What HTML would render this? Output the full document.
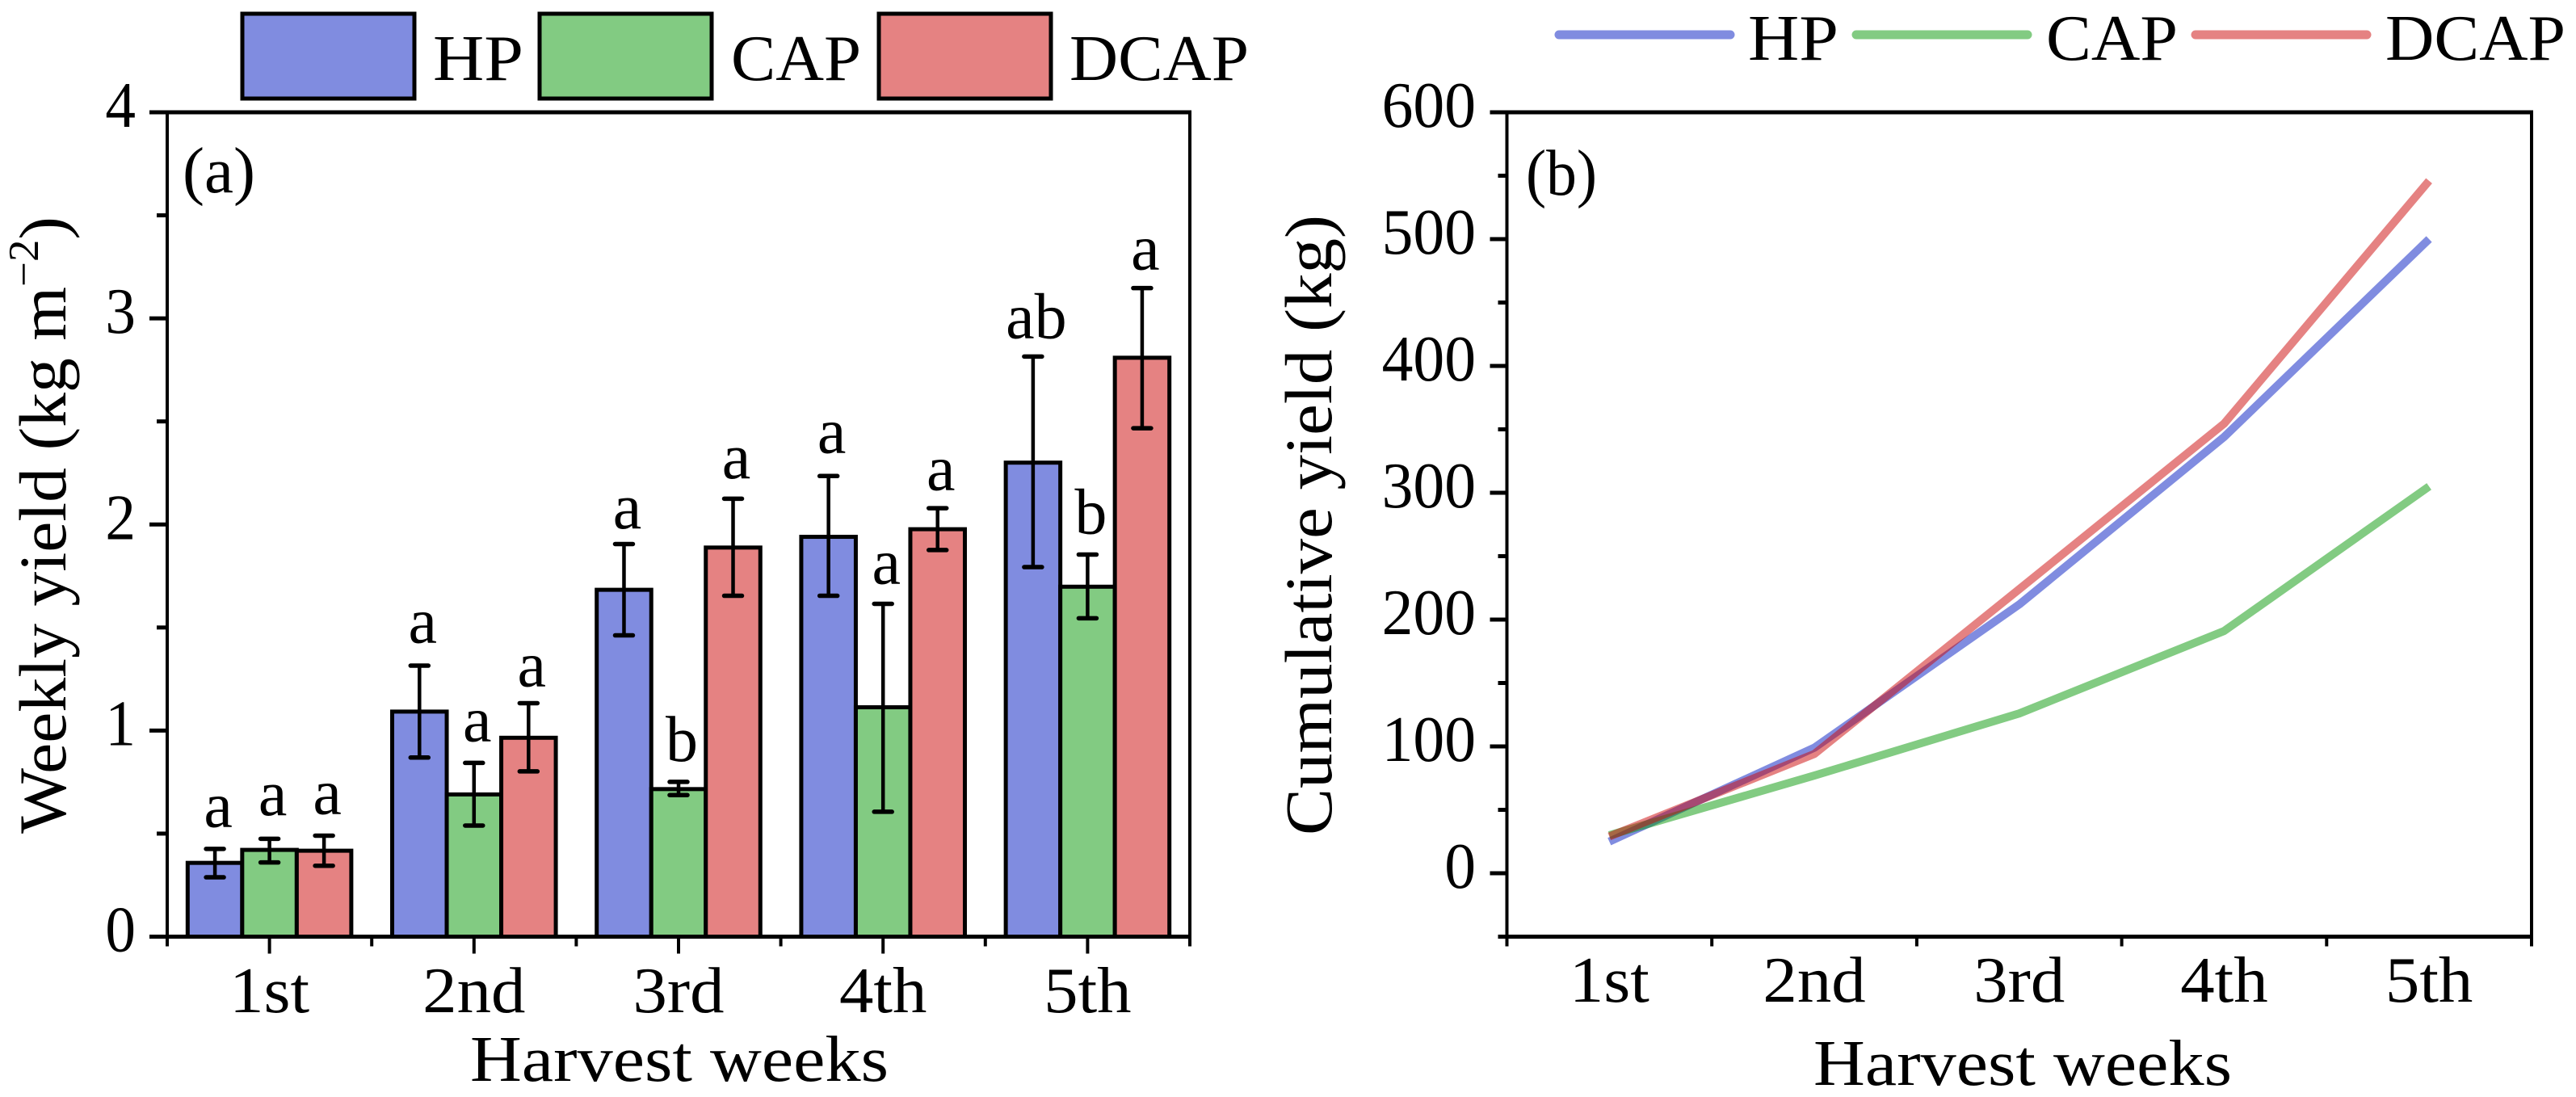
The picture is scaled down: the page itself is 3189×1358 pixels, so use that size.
<!DOCTYPE html>
<html>
<head>
<meta charset="utf-8">
<title>Weekly and cumulative yield</title>
<style>
html,body{margin:0;padding:0;background:#fff;width:3189px;height:1358px;overflow:hidden}
svg{display:block}
text{font-family:"Liberation Serif","DejaVu Serif",serif;font-size:80px;fill:#000}
</style>
</head>
<body>
<svg id="figure" xmlns="http://www.w3.org/2000/svg" width="3189" height="1358" viewBox="0 0 3189 1358">
  <g id="panel-a"></g>
  <g id="panel-b"></g>

  <g stroke="#000" stroke-width="5">
    <rect x="300" y="17" width="213" height="105" fill="#808CE0"/>
    <rect x="668" y="17" width="213" height="105" fill="#82CB82"/>
    <rect x="1088" y="17" width="213" height="105" fill="#E58282"/>
  </g>
  <text x="536" y="99" textLength="112" lengthAdjust="spacingAndGlyphs">HP</text>
  <text x="905" y="99" textLength="161" lengthAdjust="spacingAndGlyphs">CAP</text>
  <text x="1324" y="99" textLength="222" lengthAdjust="spacingAndGlyphs">DCAP</text>

  <g stroke-width="11" stroke-linecap="round">
    <line x1="1930" x2="2142" y1="43" y2="43" stroke="#808CE0"/>
    <line x1="2298" x2="2510" y1="43" y2="43" stroke="#82CB82"/>
    <line x1="2718" x2="2930" y1="43" y2="43" stroke="#E58282"/>
  </g>
  <text x="2164" y="74" textLength="112" lengthAdjust="spacingAndGlyphs">HP</text>
  <text x="2533" y="74" textLength="163" lengthAdjust="spacingAndGlyphs">CAP</text>
  <text x="2953" y="74" textLength="223" lengthAdjust="spacingAndGlyphs">DCAP</text>

  <text x="226" y="238" textLength="90" lengthAdjust="spacingAndGlyphs">(a)</text>
  <text x="1889" y="241" textLength="88" lengthAdjust="spacingAndGlyphs">(b)</text>

  <text x="841" y="1338" text-anchor="middle" textLength="518" lengthAdjust="spacingAndGlyphs">Harvest weeks</text>
  <text x="2504" y="1343" text-anchor="middle" textLength="518" lengthAdjust="spacingAndGlyphs">Harvest weeks</text>

  <text style="font-size:83px" transform="translate(81,650) rotate(-90)" text-anchor="middle" textLength="764" lengthAdjust="spacingAndGlyphs">Weekly yield (kg m<tspan dy="-34" style="font-size:53px">−2</tspan><tspan dy="34">)</tspan></text>
  <text style="font-size:83px" transform="translate(1648,650) rotate(-90)" text-anchor="middle" textLength="768" lengthAdjust="spacingAndGlyphs">Cumulative yield (kg)</text>
</svg>

<script>
// Shared
const seriesNames = ['hp', 'cap', 'dcap'];
const weekLabels = ['1st', '2nd', '3rd', '4th', '5th'];

// Panel (a): weekly yield
const weeklyHP = [0.358, 1.092, 1.683, 1.94, 2.30];
const weeklyCAP = [0.421, 0.69, 0.716, 1.113, 1.698];
const weeklyDCAP = [0.417, 0.965, 1.888, 1.977, 2.809];
const errHighHP = [0.426, 1.315, 1.905, 2.235, 2.815];
const errHighCAP = [0.475, 0.843, 0.751, 1.615, 1.854];
const errHighDCAP = [0.49, 1.133, 2.125, 2.079, 3.147];
const errLowHP = [0.288, 0.869, 1.462, 1.654, 1.793];
const errLowCAP = [0.36, 0.539, 0.687, 0.606, 1.545];
const errLowDCAP = [0.344, 0.802, 1.654, 1.876, 2.467];
const lettersHP = ['a', 'a', 'a', 'a', 'ab'];
const lettersCAP = ['a', 'a', 'b', 'a', 'b'];
const lettersDCAP = ['a', 'a', 'a', 'a', 'a'];
const letterLevelHP = [0.533, 1.427, 1.982, 2.347, 2.904];
const letterLevelCAP = [0.589, 0.948, 0.852, 1.712, 1.956];
const letterLevelDCAP = [0.595, 1.215, 2.225, 2.167, 3.237];
const yTicksA = [0, 1, 2, 3, 4];
const yMinorTicksA = [0.5, 1.5, 2.5, 3.5];

// Panel (b): cumulative yield
const cumulativeHP = [25, 99, 212, 344, 500];
const cumulativeCAP = [30, 77, 126, 191, 305];
const cumulativeDCAP = [29, 94, 224, 354.5, 546];
const yTicksB = [0, 100, 200, 300, 400, 500, 600];
const yMinorTicksB = [-50, 50, 150, 250, 350, 450, 550];

const NS = 'http://www.w3.org/2000/svg';
function make(parent, tag, attrs, content) {
  const n = document.createElementNS(NS, tag);
  for (const k in attrs) n.setAttribute(k, attrs[k]);
  if (content !== undefined) n.textContent = content;
  parent.appendChild(n);
  return n;
}
// Stretch a label horizontally relative to its natural width
function stretch(n, k) {
  n.setAttribute('textLength', (n.getComputedTextLength() * k).toFixed(1));
  n.setAttribute('lengthAdjust', 'spacingAndGlyphs');
}

const fillColors = ['#808CE0', '#82CB82', '#E58282'];
const lineColors = ['rgba(1,25,193,.5)', 'rgba(5,151,5,.5)', 'rgba(203,5,5,.5)'];

/* ---------- panel a ---------- */
const pa = document.getElementById('panel-a');
const ax = { left: 207, right: 1473, top: 139, bottom: 1159.5 };
const yA = v => ax.bottom - (v - 0) / (4 - 0) * (ax.bottom - ax.top);
const stepA = (ax.right - ax.left) / weekLabels.length;
const xCenterA = i => ax.left + stepA * (i + 0.5);
const barW = stepA * 0.8 / 3;
const xBarA = (i, s) => xCenterA(i) + (s - 1) * barW;

const weekly = [weeklyHP, weeklyCAP, weeklyDCAP];
const errHigh = [errHighHP, errHighCAP, errHighDCAP];
const errLow = [errLowHP, errLowCAP, errLowDCAP];
const letters = [lettersHP, lettersCAP, lettersDCAP];
const letterLevels = [letterLevelHP, letterLevelCAP, letterLevelDCAP];

weekly.forEach((vals, s) => {
  vals.forEach((v, i) => {
    const bar = make(pa, 'rect', {
      x: xBarA(i, s) - barW / 2, y: yA(v), width: barW, height: yA(0) - yA(v),
      fill: fillColors[s], stroke: '#000', 'stroke-width': 5
    });
    
    
  });
});
weekly.forEach((vals, s) => {
  vals.forEach((v, i) => {
    const cx = xBarA(i, s);
    const g = make(pa, 'g', { stroke: '#000', 'stroke-linecap': 'round' });
    
    
    make(g, 'line', { x1: cx, x2: cx, y1: yA(errHigh[s][i]), y2: yA(errLow[s][i]), 'stroke-width': 4.5 });
    make(g, 'line', { x1: cx - 11, x2: cx + 11, y1: yA(errHigh[s][i]), y2: yA(errHigh[s][i]), 'stroke-width': 5.5 });
    make(g, 'line', { x1: cx - 11, x2: cx + 11, y1: yA(errLow[s][i]), y2: yA(errLow[s][i]), 'stroke-width': 5.5 });
    const t = make(pa, 'text', { x: cx + 4, y: yA(letterLevels[s][i]), 'text-anchor': 'middle' }, letters[s][i]);
    
    
  });
});

function frame(parent, box, name) {
  const g = make(parent, 'g', { stroke: '#000' });
  
  
  make(g, 'line', { x1: box.left, x2: box.left, y1: box.top, y2: box.bottom, 'stroke-width': 4 });
  make(g, 'line', { x1: box.right, x2: box.right, y1: box.top, y2: box.bottom, 'stroke-width': 4 });
  make(g, 'line', { x1: box.left - 2, x2: box.right + 2, y1: box.top, y2: box.top, 'stroke-width': 5 });
  make(g, 'line', { x1: box.left - 2, x2: box.right + 2, y1: box.bottom, y2: box.bottom, 'stroke-width': 5 });
  return g;
}
const frameA = frame(pa, ax, 'plot-frame-a');

yTicksA.forEach(v => {
  const tick = make(frameA, 'line', { x1: ax.left - 22, x2: ax.left, y1: yA(v), y2: yA(v), 'stroke-width': 5 });
  
  
  const t = make(pa, 'text', { x: 168, y: yA(v) + 18, 'text-anchor': 'end' }, v);
  
  
  stretch(t, 0.94);
});
yMinorTicksA.forEach(v => {
  const tick = make(frameA, 'line', { x1: ax.left - 13, x2: ax.left, y1: yA(v), y2: yA(v), 'stroke-width': 5 });
  
  
});
for (let i = 0; i <= weekLabels.length; i++) {
  const bx = ax.left + stepA * i;
  const tick = make(frameA, 'line', { x1: bx, x2: bx, y1: ax.bottom, y2: ax.bottom + 12, 'stroke-width': 4 });
  
  
}
weekLabels.forEach((lab, i) => {
  const cx = xCenterA(i);
  const tick = make(frameA, 'line', { x1: cx, x2: cx, y1: ax.bottom, y2: ax.bottom + 21, 'stroke-width': 4 });
  
  
  const t = make(pa, 'text', { x: cx, y: 1253, 'text-anchor': 'middle' }, lab);
  
  
  stretch(t, 1.06);
});

/* ---------- panel b ---------- */
const pb = document.getElementById('panel-b');
const bx = { left: 1865.5, right: 3134, top: 139, bottom: 1159.5 };
const yB = v => bx.bottom - (v + 50) / (600 + 50) * (bx.bottom - bx.top);
const stepB = (bx.right - bx.left) / weekLabels.length;
const xCenterB = i => bx.left + stepB * (i + 0.5);

const frameB = frame(pb, bx, 'plot-frame-b');
yTicksB.forEach(v => {
  const tick = make(frameB, 'line', { x1: bx.left - 21, x2: bx.left, y1: yB(v), y2: yB(v), 'stroke-width': 5 });
  
  
  const t = make(pb, 'text', { x: 1827, y: yB(v) + 18, 'text-anchor': 'end' }, v);
  
  
  stretch(t, 0.97);
});
yMinorTicksB.forEach(v => {
  const tick = make(frameB, 'line', { x1: bx.left - 11, x2: bx.left, y1: yB(v), y2: yB(v), 'stroke-width': 5 });
  
  
});
for (let i = 0; i <= weekLabels.length; i++) {
  const tx = bx.left + stepB * i;
  const tick = make(frameB, 'line', { x1: tx, x2: tx, y1: bx.bottom, y2: bx.bottom + 12, 'stroke-width': 4 });
  
  
}
weekLabels.forEach((lab, i) => {
  const t = make(pb, 'text', { x: xCenterB(i), y: 1240, 'text-anchor': 'middle' }, lab);
  
  
  stretch(t, 1.06);
});
[cumulativeHP, cumulativeCAP, cumulativeDCAP].forEach((vals, s) => {
  const pts = vals.map((v, i) => xCenterB(i).toFixed(1) + ',' + yB(v).toFixed(1)).join(' ');
  const line = make(pb, 'polyline', {
    points: pts, fill: 'none', stroke: lineColors[s], 'stroke-width': 10, 'stroke-linejoin': 'round'
  });
  
  
});
</script>
</body>
</html>
